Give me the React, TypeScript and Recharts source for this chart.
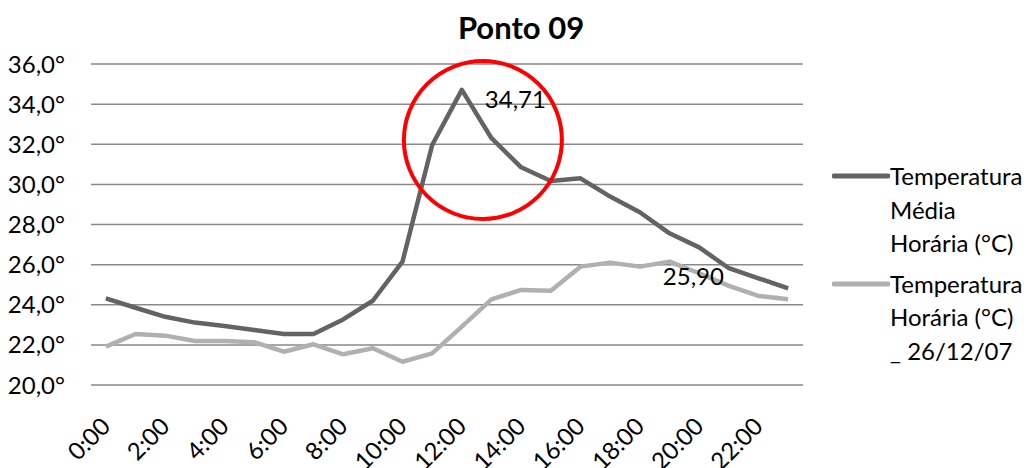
import {
  CartesianGrid,
  Legend,
  Line,
  LineChart,
  ReferenceDot,
  XAxis,
  YAxis,
} from "recharts";

const hours = [0, 1, 2, 3, 4, 5, 6, 7, 8, 9, 10, 11, 12, 13, 14, 15, 16, 17, 18, 19, 20, 21, 22, 23];
const mediaHoraria = [
  24.32, 23.85, 23.4, 23.11, 22.94, 22.74, 22.54, 22.54, 23.27, 24.2, 26.15, 31.96,
  34.71, 32.3, 30.85, 30.17, 30.3, 29.39, 28.61, 27.56, 26.86, 25.82, 25.32, 24.82,
];
const horaria261207 = [
  21.91, 22.54, 22.46, 22.19, 22.19, 22.13, 21.66, 22.03, 21.53, 21.83, 21.16, 21.58,
  22.91, 24.27, 24.74, 24.7, 25.9, 26.1, 25.9, 26.15, 25.57, 24.94, 24.44, 24.27,
];
const xTicks = [0, 2, 4, 6, 8, 10, 12, 14, 16, 18, 20, 22];
const yTicks = [20, 22, 24, 26, 28, 30, 32, 34, 36];
const seriesNames = ["Temperatura Média Horária (°C)", "Temperatura Horária (°C) _\u00a026/12/07"];
const seriesColors = ["#636363", "#b0b0b0"];
const labelIndex = [12, 18];
const highlight = { hour: 12.71, temp: 32.21 };

const FONT = "Lato, 'Open Sans', sans-serif";

const chartData = hours.map((hour, i) => ({
  hour,
  media: mediaHoraria[i],
  dia: horaria261207[i],
}));

const formatComma = (value: number, digits: number) => value.toFixed(digits).replace(".", ",");

const HourTick = (props: any) => {
  const { x, y, payload } = props;
  return (
    <g transform={`translate(${x},${y + 37})`}>
      <text
        x={0}
        y={0}
        dy="0.35em"
        textAnchor="end"
        transform="rotate(-45)"
        fill="#000"
        fontSize={24}
        fontFamily={FONT}
      >
        {`${payload.value}:00`}
      </text>
    </g>
  );
};

const pointLabel = (target: number) => (props: any) => {
  const { x, y, index, value } = props;
  if (index !== target) {
    return null;
  }
  return (
    <text x={x + 23} y={y + 10} dy="0.35em" fill="#000" fontSize={24} fontFamily={FONT}>
      {formatComma(Number(value), 2)}
    </text>
  );
};

const LegendBox = () => (
  <div style={{ width: 230, paddingLeft: 29, boxSizing: "border-box", fontFamily: FONT, fontSize: 24 }}>
    {seriesNames.map((name, i) => (
      <div key={name} style={{ display: "flex", alignItems: "flex-start", marginBottom: i === 0 ? 7 : 0 }}>
        <svg width={58} height={33} style={{ flex: "none" }}>
          <line x1={2} y1={17} x2={56} y2={17} stroke={seriesColors[i]} strokeWidth={5} strokeLinecap="round" />
        </svg>
        <div style={{ width: 143, lineHeight: "33.5px", color: "#000" }}>{name}</div>
      </div>
    ))}
  </div>
);

export default function App() {
  return (
    <div style={{ position: "relative", width: 1033, height: 468, background: "#fff" }}>
      <style>{"body{margin:0}"}</style>
      <div
        style={{
          position: "absolute",
          top: 12,
          left: 0,
          width: 1042,
          textAlign: "center",
          fontFamily: FONT,
          fontWeight: 700,
          fontSize: 31,
          lineHeight: "31px",
          color: "#000",
        }}
      >
        Ponto 09
      </div>
      <LineChart width={1033} height={468} data={chartData} margin={{ top: 64, right: 0, bottom: 13, left: 0 }}>
        <CartesianGrid vertical={false} stroke="#898989" strokeWidth={1.5} />
        <XAxis
          dataKey="hour"
          type="number"
          domain={[-0.5, 23.5]}
          ticks={xTicks}
          interval={0}
          axisLine={false}
          tickLine={false}
          tickSize={0}
          tickMargin={0}
          height={70}
          tick={<HourTick />}
        />
        <YAxis
          domain={[20, 36]}
          ticks={yTicks}
          interval={0}
          width={91}
          axisLine={false}
          tickLine={false}
          tickSize={0}
          tickMargin={26}
          tickFormatter={(v: number) => `${formatComma(v, 1)}°`}
          tick={{ fill: "#000", fontSize: 24, fontFamily: FONT }}
        />
        <Legend
          layout="vertical"
          align="right"
          verticalAlign="top"
          wrapperStyle={{ right: 0, top: 159 }}
          content={<LegendBox />}
        />
        <Line
          type="linear"
          dataKey="media"
          name={seriesNames[0]}
          stroke={seriesColors[0]}
          strokeWidth={4.5}
          strokeLinejoin="round"
          dot={false}
          activeDot={false}
          label={pointLabel(labelIndex[0])}
          isAnimationActive={false}
        />
        <Line
          type="linear"
          dataKey="dia"
          name={seriesNames[1]}
          stroke={seriesColors[1]}
          strokeWidth={4.5}
          strokeLinejoin="round"
          dot={false}
          activeDot={false}
          label={pointLabel(labelIndex[1])}
          isAnimationActive={false}
        />
        <ReferenceDot
          x={highlight.hour}
          y={highlight.temp}
          r={79}
          fill="none"
          stroke="#ff0000"
          strokeWidth={4}
        />
      </LineChart>
    </div>
  );
}
